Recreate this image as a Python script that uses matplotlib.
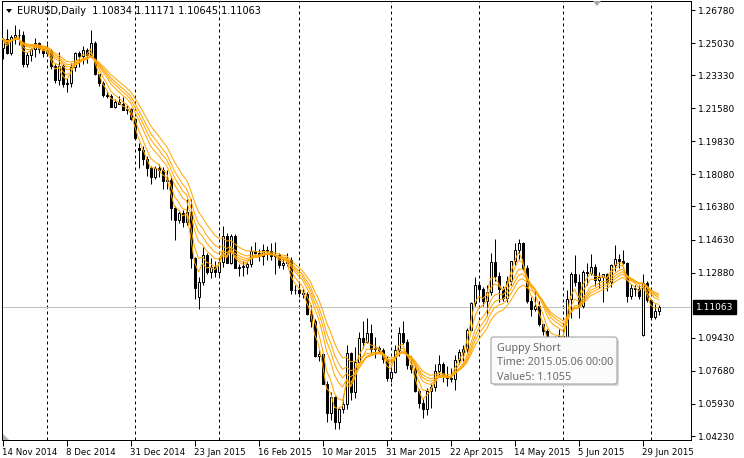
import matplotlib
matplotlib.use('Agg')
import matplotlib.pyplot as plt
import numpy as np
import pandas as pd
from matplotlib.patches import FancyBboxPatch, Polygon

# ---------------- data ----------------
header_symbol = "EURUSD,Daily"
header_ohlc = "1.10834 1.11171 1.10645 1.11063"

opens = [1.2475,1.2525,1.2450,1.2535,1.2545,1.2545,1.2390,1.2440,1.2470,1.2505,1.2470,
         1.2450,1.2460,1.2380,1.2310,1.2380,1.2285,1.2290,1.2375,1.2450,1.2435,1.2465,1.2440,1.2505,1.2340,1.2290,1.2230,1.2225,1.2165,1.2190,1.2180,1.2150,1.2155,
         1.2100,1.1950,1.1935,1.1890,1.1840,1.1795,1.1840,1.1830,1.1775,1.1780,1.1630,1.1565,1.1605,1.1555,1.1610,1.1365,1.1160,1.1240,1.1380,1.1290,1.1320,
         1.1290,1.1345,1.1480,1.1340,1.1480,1.1315,1.1320,1.1320,1.1335,1.1400,1.1390,1.1375,1.1410,1.1405,1.1375,1.1380,1.1330,1.1340,1.1355,1.1195,
         1.1195,1.1180,1.1175,1.1070,1.1030,1.0845,1.0855,1.0700,1.0545,1.0630,1.0495,1.0565,1.0595,1.0865,1.0655,1.0815,1.0940,1.0920,1.0970,1.0885,1.0890,1.0880,1.0830,
         1.0730,1.0760,1.0880,1.0970,1.0920,1.0800,1.0780,1.0660,1.0600,1.0565,1.0660,1.0680,1.0765,1.0805,1.0740,1.0730,1.0725,1.0825,1.0870,1.0885,1.0985,1.1125,
         1.1225,1.1200,1.1140,1.1185,1.1345,1.1270,1.1200,1.1155,1.1245,1.1350,1.1410,1.1445,1.1315,1.1140,1.1095,1.1110,1.1015,1.0980,1.0875,1.0890,1.0935,
         1.0955,1.0925,1.1150,1.1280,1.1240,1.1110,1.1290,1.1285,1.1320,1.1250,1.1265,1.1280,1.1240,1.1330,1.1360,1.1350,1.1340,1.1165,1.1205,1.1200,1.0960,1.1235,
         1.1145,1.1055,1.10834]
highs = [1.2530,1.2575,1.2545,1.2600,1.2580,1.2565,1.2455,1.2475,1.2530,1.2510,1.2480,
         1.2500,1.2470,1.2390,1.2455,1.2390,1.2320,1.2395,1.2455,1.2460,1.2485,1.2475,1.2570,1.2515,1.2340,1.2300,1.2250,1.2235,1.2205,1.2225,1.2220,1.2175,1.2160,
         1.2105,1.1975,1.1960,1.1905,1.1850,1.1850,1.1865,1.1845,1.1830,1.1800,1.1640,1.1615,1.1620,1.1680,1.1680,1.1370,1.1265,1.1423,1.1390,1.1365,1.1350,
         1.1365,1.1534,1.1500,1.1495,1.1490,1.1335,1.1350,1.1345,1.1430,1.1450,1.1415,1.1440,1.1430,1.1445,1.1450,1.1390,1.1365,1.1390,1.1370,1.1225,
         1.1240,1.1200,1.1185,1.1115,1.1040,1.0880,1.0860,1.0715,1.0655,1.0635,1.0570,1.0640,1.0905,1.0870,1.0895,1.0975,1.1030,1.1050,1.1015,1.0945,1.0900,1.0890,1.0845,
         1.0790,1.0905,1.1000,1.1030,1.0935,1.0845,1.0800,1.0670,1.0620,1.0675,1.0700,1.0805,1.0850,1.0815,1.0795,1.0785,1.0850,1.0885,1.0905,1.0995,1.1135,1.1265,
         1.1240,1.1210,1.1220,1.1390,1.1465,1.1290,1.1215,1.1270,1.1350,1.1445,1.1465,1.1450,1.1330,1.1160,1.1190,1.1140,1.1015,1.0990,1.0920,1.0950,1.0990,
         1.0970,1.1195,1.1290,1.1380,1.1280,1.1300,1.1340,1.1385,1.1335,1.1290,1.1280,1.1285,1.1335,1.1435,1.1385,1.1410,1.1345,1.1230,1.1225,1.1225,1.1280,1.1245,
         1.1150,1.1120,1.11171]
lows = [1.2420,1.2445,1.2440,1.2500,1.2495,1.2375,1.2375,1.2410,1.2430,1.2450,1.2430,
        1.2435,1.2365,1.2290,1.2280,1.2270,1.2245,1.2270,1.2355,1.2375,1.2390,1.2400,1.2435,1.2335,1.2275,1.2220,1.2210,1.2165,1.2160,1.2180,1.2150,1.2125,1.2095,
        1.2000,1.1842,1.1860,1.1800,1.1755,1.1785,1.1795,1.1730,1.1730,1.1565,1.1460,1.1550,1.1530,1.1540,1.1315,1.1150,1.1098,1.1220,1.1280,1.1260,1.1265,
        1.1270,1.1320,1.1340,1.1335,1.1315,1.1270,1.1270,1.1280,1.1320,1.1385,1.1350,1.1330,1.1355,1.1355,1.1280,1.1310,1.1305,1.1325,1.1175,1.1175,
        1.1160,1.1155,1.1065,1.1000,1.0840,1.0820,1.0700,1.0495,1.0510,1.0462,1.0458,1.0545,1.0565,1.0615,1.0625,1.0815,1.0890,1.0915,1.0860,1.0835,1.0870,1.0810,1.0715,
        1.0710,1.0755,1.0845,1.0910,1.0780,1.0755,1.0655,1.0570,1.0520,1.0535,1.0570,1.0660,1.0740,1.0710,1.0690,1.0710,1.0665,1.0805,1.0820,1.0865,1.0980,1.1110,
        1.1145,1.1110,1.1060,1.1170,1.1245,1.1135,1.1140,1.1130,1.1220,1.1330,1.1360,1.1300,1.1125,1.1060,1.1085,1.1005,1.0960,1.0865,1.0820,1.0865,1.0925,
        1.0885,1.0925,1.1050,1.1215,1.1050,1.1100,1.1220,1.1275,1.1215,1.1205,1.1135,1.1190,1.1210,1.1295,1.1310,1.1335,1.1135,1.1150,1.1165,1.1150,1.0955,1.1130,
        1.1045,1.1045,1.10645]
closes = [1.2525,1.2450,1.2535,1.2545,1.2545,1.2390,1.2440,1.2470,1.2505,1.2470,1.2450,
          1.2460,1.2380,1.2310,1.2380,1.2285,1.2290,1.2375,1.2450,1.2435,1.2465,1.2440,1.2505,1.2340,1.2290,1.2230,1.2225,1.2165,1.2190,1.2180,1.2150,1.2155,1.2100,
          1.2000,1.1935,1.1890,1.1840,1.1795,1.1840,1.1830,1.1775,1.1780,1.1630,1.1565,1.1605,1.1555,1.1610,1.1365,1.1205,1.1240,1.1380,1.1290,1.1320,1.1290,
          1.1345,1.1480,1.1340,1.1480,1.1315,1.1320,1.1320,1.1335,1.1400,1.1390,1.1375,1.1410,1.1405,1.1375,1.1380,1.1330,1.1340,1.1355,1.1195,1.1195,
          1.1180,1.1175,1.1070,1.1030,1.0845,1.0855,1.0700,1.0545,1.0630,1.0495,1.0565,1.0595,1.0865,1.0655,1.0815,1.0940,1.0920,1.0970,1.0885,1.0890,1.0880,1.0830,1.0730,
          1.0760,1.0880,1.0970,1.0920,1.0800,1.0780,1.0660,1.0600,1.0565,1.0660,1.0680,1.0765,1.0805,1.0740,1.0730,1.0725,1.0825,1.0870,1.0885,1.0985,1.1125,1.1225,
          1.1200,1.1140,1.1185,1.1345,1.1270,1.1200,1.1155,1.1245,1.1350,1.1410,1.1445,1.1315,1.1140,1.1095,1.1110,1.1015,1.0980,1.0875,1.0890,1.0935,1.0955,
          1.0925,1.1150,1.1280,1.1240,1.1110,1.1290,1.1285,1.1320,1.1250,1.1265,1.1280,1.1240,1.1330,1.1360,1.1350,1.1340,1.1165,1.1205,1.1200,1.1165,1.1235,1.1145,
          1.1055,1.1085,1.11063]

holidays = ['2014-12-25', '2015-01-01']
extra_days = ['2015-03-29']
dates = (pd.bdate_range('2014-11-14', '2015-07-03')
         .drop(pd.to_datetime(holidays))
         .union(pd.to_datetime(extra_days)))

guppy_periods = [3, 5, 8, 10, 12, 15]
price_ticks = [1.26780, 1.25030, 1.23330, 1.21580, 1.19830, 1.18080, 1.16380,
               1.14630, 1.12880, 1.09430, 1.07680, 1.05930, 1.04230]
date_labels = ['14 Nov 2014', '8 Dec 2014', '31 Dec 2014', '23 Jan 2015', '16 Feb 2015',
               '10 Mar 2015', '31 Mar 2015', '22 Apr 2015', '14 May 2015', '5 Jun 2015',
               '29 Jun 2015']
last_price = 1.11063
tooltip_lines = ['Guppy Short', 'Time: 2015.05.06 00:00', 'Value5: 1.1055']

# ---------------- figure ----------------
W, H = 744, 458
fig = plt.figure(figsize=(W / 100, H / 100), dpi=100)
fig.patch.set_facecolor('white')

L, R, T, B = 2, 691, 1, 440
ax = fig.add_axes([L / W, 1 - B / H, (R - L) / W, (B - T) / H])
ax.set_facecolor('white')

n = len(closes)
xs = np.arange(n)
o = np.array(opens); h = np.array(highs); l = np.array(lows); c = np.array(closes)

ax.set_xlim((L - 2.5) / 4.0, (R - 2.5) / 4.0)
ax.set_ylim(1.2678 - (B - 10) * 0.0005293, 1.2678 - (T - 10) * 0.0005293)

px = 0.72  # one pixel in points

# month separators (dotted)
month_starts = [i for i in range(1, n) if dates[i].month != dates[i - 1].month]
for i in month_starts:
    ax.axvline(i, color='black', lw=px, ls=(0, (3, 3)), zorder=1)

# current price line
ax.axhline(last_price, color='#c0c0c0', lw=px, zorder=1)

# candles
ax.vlines(xs, l, h, color='black', lw=px, zorder=2)
bull = c >= o
body_bottom = np.minimum(o, c)
body_h = np.maximum(np.abs(c - o), 0.00005)
ax.bar(xs[bull], body_h[bull], bottom=body_bottom[bull], width=0.5,
       facecolor='white', edgecolor='black', lw=px, zorder=3)
ax.bar(xs[~bull], body_h[~bull], bottom=body_bottom[~bull], width=0.5,
       facecolor='black', edgecolor='black', lw=px, zorder=3)

# Guppy short EMAs
def ema(values, period):
    a = 2.0 / (period + 1)
    out = [values[0]]
    for v in values[1:]:
        out.append(a * v + (1 - a) * out[-1])
    return np.array(out)

for p in guppy_periods:
    ax.plot(xs, ema(closes, p), color='#FFA500', lw=px, zorder=4, solid_joinstyle='miter')

# axes styling
for s in ax.spines.values():
    s.set_color('black'); s.set_linewidth(px)

ax.yaxis.tick_right()
ax.set_yticks(price_ticks)
ax.set_yticklabels([f"{v:.5f}" for v in price_ticks])
ax.tick_params(axis='y', direction='out', length=3, width=px, pad=2,
               labelsize=6.5, colors='black')

fmt_dates = [f"{d.day} {d:%b %Y}" for d in dates]
tick_pos = [fmt_dates.index(s) for s in date_labels]
ax.set_xticks(tick_pos)
ax.set_xticklabels(date_labels)
ax.tick_params(axis='x', direction='out', length=4, width=px, pad=2,
               labelsize=6.2, colors='black')
for lab in ax.get_xticklabels():
    lab.set_ha('left')

# current price label on axis
fig.text((R + 5) / W, 1 - 307 / H, f"{last_price:.5f}", color='white', fontsize=6.5,
         va='center', ha='left',
         bbox=dict(boxstyle='square,pad=0.3', facecolor='black', edgecolor='black'))

def fx(p): return p / W
def fy(p): return 1 - p / H

# header
fig.add_artist(Polygon([(fx(6), fy(9)), (fx(12), fy(9)), (fx(9), fy(13))],
                       closed=True, facecolor='black', edgecolor='none',
                       transform=fig.transFigure))
fig.text(fx(17), fy(11), f"{header_symbol}  {header_ohlc}", fontsize=7.0,
         va='center', ha='left', color='black')

# small markers
fig.add_artist(Polygon([(fx(593), fy(1)), (fx(601), fy(1)), (fx(597), fy(6))],
                       closed=True, facecolor='#a8a8a8', edgecolor='none',
                       transform=fig.transFigure))
fig.add_artist(Polygon([(fx(2.5), fy(434)), (fx(2.5), fy(440)), (fx(8.5), fy(440))],
                       closed=True, facecolor='#b0b0b0', edgecolor='none',
                       transform=fig.transFigure))

# tooltip
tx0, ty0, tx1, ty1 = 491, 337, 617, 384
shadow = FancyBboxPatch((fx(tx0 + 2), fy(ty1 + 2)), fx(tx1 - tx0), (ty1 - ty0) / H,
                        boxstyle='round,pad=0,rounding_size=0.004',
                        facecolor='#d8d8d8', edgecolor='none',
                        transform=fig.transFigure, zorder=10)
box = FancyBboxPatch((fx(tx0), fy(ty1)), fx(tx1 - tx0), (ty1 - ty0) / H,
                     boxstyle='round,pad=0,rounding_size=0.004',
                     facecolor='#fbfbfb', edgecolor='#9a9a9a', lw=px,
                     transform=fig.transFigure, zorder=11)
fig.add_artist(shadow)
fig.add_artist(box)
for k, line in enumerate(tooltip_lines):
    fig.text(fx(497), fy(348 + k * 14.5), line, fontsize=7.8, family='Noto Sans',
             color='#6b6b6b', va='center', ha='left', zorder=12)

fig.savefig('out.png', dpi=100)
